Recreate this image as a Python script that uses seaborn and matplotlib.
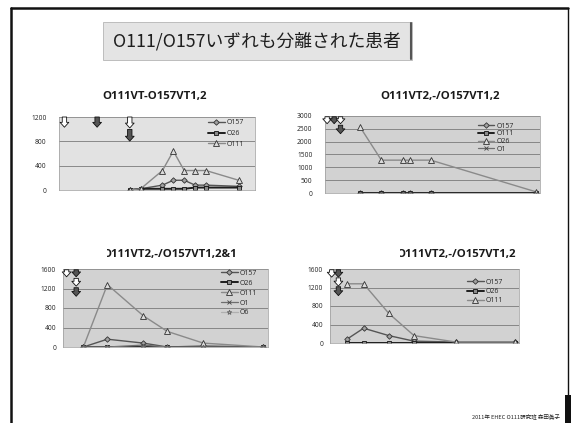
import matplotlib
matplotlib.use("Agg")
import matplotlib.pyplot as plt
import seaborn as sns
from matplotlib.lines import Line2D
from matplotlib.patches import Rectangle

sns.set_theme(style="white")
plt.rcParams["font.family"] = ["Open Sans", "Noto Sans CJK JP", "DejaVu Sans"]

# ---- data: days after onset and toxin titres per serotype ----
title_main = "O111/O157いずれも分離された患者"
footer = "2011年 EHEC O111研究班 森田眞子"

# panel 1
title1 = "O111VT-O157VT1,2"
days1 = [7, 8, 10, 11, 12, 13, 14, 17]
o157_1 = [0, 20, 80, 160, 160, 80, 80, 60]
o26_1 = [0, 20, 20, 20, 20, 40, 40, 40]
o111_1 = [0, 20, 320, 640, 320, 320, 320, 160]
yticks1 = [0, 400, 800, 1200]

# panel 2
title2 = "O111VT2,-/O157VT1,2"
days2 = [5, 8, 11, 12, 15, 30]
o157_2 = [0, 0, 0, 0, 0, 0]
o111_2 = [0, 0, 0, 0, 0, 0]
o26_2 = [2560, 1280, 1280, 1280, 1280, 40]
o1_2 = [0, 0, 0, 0, 0, 0]
yticks2 = [0, 500, 1000, 1500, 2000, 2500, 3000]

# panel 3
title3 = "O111VT2,-/O157VT1,2&1"
days3 = [2, 4, 7, 9, 12, 17]
o157_3 = [0, 160, 80, 0, 20, 0]
o26_3 = [0, 0, 0, 0, 0, 0]
o111_3 = [0, 1280, 640, 320, 80, 0]
o1_3 = [0, 0, 40, 0, 0, 0]
o6_3 = [0, 0, 0, 0, 0, 0]
yticks3 = [0, 400, 800, 1200, 1600]

# panel 4
title4 = "O111VT2,-/O157VT1,2"
days4 = [2, 4, 7, 10, 15, 22]
o157_4 = [80, 320, 160, 40, 20, 20]
o26_4 = [0, 0, 0, 0, 0, 0]
o111_4 = [1280, 1280, 640, 160, 20, 20]
yticks4 = [0, 400, 800, 1200, 1600]

# treatment arrows: (day, top, bottom, filled)
arrows1 = [(1, 1.0, 0.86, False), (4, 1.0, 0.86, True),
           (7, 1.0, 0.85, False), (7, 0.83, 0.67, True)]
arrows2 = [(0.3, 0.99, 0.90, False), (1.3, 0.99, 0.90, True),
           (2.2, 0.99, 0.90, False), (2.2, 0.88, 0.77, True)]
arrows3 = [(0.6, 0.99, 0.90, False), (1.4, 0.99, 0.90, True),
           (1.4, 0.88, 0.78, False), (1.4, 0.76, 0.65, True)]
arrows4 = [(0.2, 0.99, 0.89, False), (1.0, 0.99, 0.89, True),
           (1.0, 0.88, 0.77, False), (1.0, 0.76, 0.64, True)]

# series styles in plotting order (1st diamond, 2nd square, 3rd triangle, ...)
styles = [
    dict(color="#555555", marker="D", mfc="#a0a0a0", mec="#333333", ms=2.8, lw=1.0),
    dict(color="#1e1e1e", marker="s", mfc="#8a8a8a", mec="#111111", ms=3.4, lw=1.4),
    dict(color="#8a8a8a", marker="^", mfc="#dcdcdc", mec="#333333", ms=4.0, lw=1.0),
    dict(color="#6e6e6e", marker="x", mfc="#6e6e6e", mec="#444444", ms=3.0, lw=0.9),
    dict(color="#b0b0b0", marker="*", mfc="#b0b0b0", mec="#666666", ms=3.5, lw=0.9),
]

W, H = 571, 423
fig = plt.figure(figsize=(W / 100, H / 100), dpi=100)
fig.patch.set_facecolor("white")


def rect(x0, y0, x1, y1):
    return [x0 / W, 1 - y1 / H, (x1 - x0) / W, (y1 - y0) / H]


def panel(box, title, title_xy, days, series, yticks, xlim, face, arrows,
          leg_anchor, leg_spacing, ypad, clip_left=None):
    ax = fig.add_axes(rect(*box))
    ax.set_facecolor(face)
    for i, (name, vals) in enumerate(series):
        st = styles[i]
        sns.lineplot(x=days, y=vals, ax=ax, color=st["color"], marker=st["marker"],
                     markerfacecolor=st["mfc"], markeredgecolor=st["mec"],
                     markeredgewidth=0.6, markersize=st["ms"], linewidth=st["lw"],
                     label=name, legend=False)
    ax.set_xlim(*xlim)
    ax.set_ylim(yticks[0], yticks[-1])
    ax.set_yticks(yticks)
    ax.set_yticklabels([str(v) for v in yticks])
    ax.set_xticks([])
    ax.set_xlabel("")
    ax.set_ylabel("")
    ax.tick_params(axis="y", length=0, pad=ypad, labelsize=4.8, labelcolor="#222222")
    ax.yaxis.grid(True, color="#7a7a7a", lw=0.6)
    ax.set_axisbelow(True)
    for s in ax.spines.values():
        s.set_color("#9a9a9a")
        s.set_linewidth(0.5)
        s.set_linestyle((0, (1, 1)))
    handles = ax.get_lines()[:len(series)]
    ax.legend(handles, [n for n, _ in series], loc="upper left",
              bbox_to_anchor=leg_anchor, frameon=False, fontsize=5,
              handlelength=2.4, handletextpad=0.3, labelspacing=leg_spacing,
              borderaxespad=0, borderpad=0)
    for day, top, bot, filled in arrows:
        ax.annotate("", xy=(day, bot), xytext=(day, top),
                    xycoords=("data", "axes fraction"),
                    textcoords=("data", "axes fraction"),
                    arrowprops=dict(arrowstyle="simple,head_length=0.5,head_width=0.9,tail_width=0.45",
                                    fc="#555555" if filled else "white", ec="#111111",
                                    lw=0.6, shrinkA=0, shrinkB=0, mutation_scale=7),
                    annotation_clip=False)
    t = fig.text(title_xy[0] / W, 1 - title_xy[1] / H, title, ha="center", va="center",
                 fontsize=8.2, fontweight="bold", color="#1a1a1a")
    if clip_left is not None:
        # the title's first letter is partly hidden behind the chart box edge
        clip = Rectangle((clip_left / W, 0), 1, 1, transform=fig.transFigure)
        t.set_clip_path(clip)
    return ax


panel((59, 117, 255, 190), title1, (155, 97), days1,
      [("O157", o157_1), ("O26", o26_1), ("O111", o111_1)], yticks1, (0.5, 18.5),
      "#e2e2e2", arrows1, (0.76, 0.97), 0.55, 9)
panel((325, 116, 540, 193), title2, (440, 97), days2,
      [("O157", o157_2), ("O111", o111_2), ("O26", o26_2), ("O1", o1_2)], yticks2, (0, 30.5),
      "#d2d2d2", arrows2, (0.71, 0.91), 0.08, 9)
panel((63, 269, 268, 347), title3, (170, 254), days3,
      [("O157", o157_3), ("O26", o26_3), ("O111", o111_3), ("O1", o1_3), ("O6", o6_3)],
      yticks3, (0.3, 17.4), "#d2d2d2", arrows3, (0.77, 0.99), 0.42, 5, clip_left=107)
panel((330, 269, 519, 343), title4, (456, 254), days4,
      [("O157", o157_4), ("O26", o26_4), ("O111", o111_4)], yticks4, (0, 22.5),
      "#d2d2d2", arrows4, (0.725, 0.87), 0.35, 5, clip_left=400)

# slide title box
fig.add_artist(Rectangle((103 / W, 1 - 60 / H), 309 / W, 38 / H, transform=fig.transFigure,
                         facecolor="#e4e4e4", edgecolor="#b5b5b5", lw=0.6))
fig.add_artist(Line2D([411 / W, 411 / W], [1 - 59 / H, 1 - 23 / H], transform=fig.transFigure,
                      color="#555555", lw=1.5))
fig.text(257 / W, 1 - 41 / H, title_main, ha="center", va="center", fontsize=12.8,
         family=["Noto Sans CJK JP", "DejaVu Sans"], color="#1e1e1e")

# slide frame
fk = dict(transform=fig.transFigure, color="#111111", lw=1.8)
fig.add_artist(Line2D([11 / W, 11 / W], [0, 1 - 8 / H], **fk))
fig.add_artist(Line2D([11 / W, 568 / W], [1 - 8 / H, 1 - 8 / H], **fk))
fig.add_artist(Line2D([568 / W, 568 / W], [0, 1 - 8 / H], color="#111111", lw=1.0,
                      transform=fig.transFigure))
fig.add_artist(Rectangle((565 / W, 0), 6 / W, 28 / H, transform=fig.transFigure,
                         facecolor="#111111", edgecolor="none"))

fig.text(560 / W, 1 - 416 / H, footer, ha="right", va="center", fontsize=4,
         family=["Noto Sans CJK JP", "DejaVu Sans"], color="#222222")

fig.savefig("out.png", dpi=100, facecolor="white")
